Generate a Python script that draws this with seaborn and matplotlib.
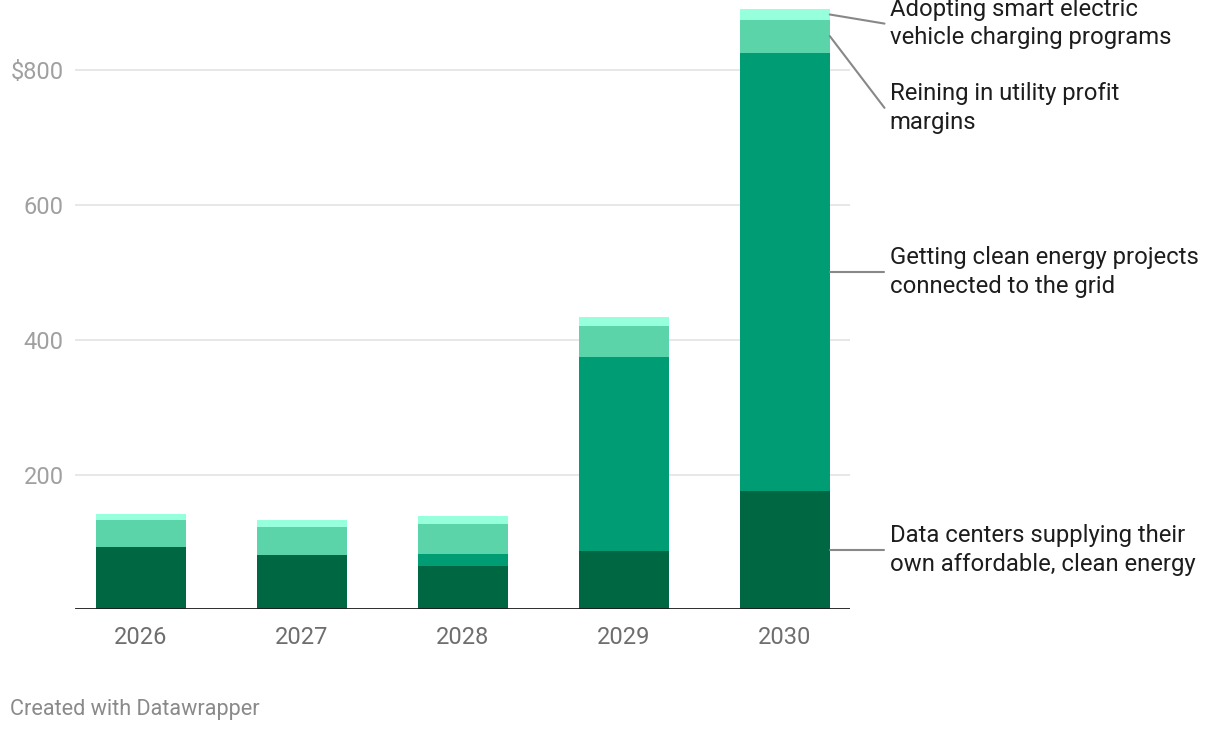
import numpy as np
import seaborn as sns
import matplotlib.pyplot as plt

years = ["2026", "2027", "2028", "2029", "2030"]
data_centers = [92, 81, 65, 87, 176]
clean_connect = [0, 0, 18, 288, 650]
profit_margins = [41, 42, 44, 46, 49]
ev_charging = [9, 10, 12, 13, 15]

series_names = [
    "Data centers supplying their\nown affordable, clean energy",
    "Getting clean energy projects\nconnected to the grid",
    "Reining in utility profit\nmargins",
    "Adopting smart electric\nvehicle charging programs",
]
colors = ["#006743", "#009c73", "#5cd4aa", "#96ffdc"]
y_ticks = [200, 400, 600, 800]
y_tick_labels = ["200", "400", "600", "$800"]

sns.set_style("white")
plt.rcParams["font.family"] = ["Roboto", "DejaVu Sans"]

fig = plt.figure(figsize=(12.2, 7.32), dpi=100)
ax = fig.add_axes([0.0615, 0.1674, 0.635, 0.8326])

layers = [data_centers, clean_connect, profit_margins, ev_charging]
bottom = np.zeros(len(years))
mids = []
for vals, c in zip(layers, colors):
    sns.barplot(x=years, y=vals, bottom=bottom, color=c, width=0.56,
                saturation=1, linewidth=0, edgecolor=c, ax=ax, zorder=3)
    mids.append(bottom[-1] + vals[-1] / 2)
    bottom = bottom + np.array(vals)

ax.set_xlim(-0.41, 4.404)
ax.set_ylim(0, 904)
for t in y_ticks:
    ax.axhline(t, color="#e3e3e3", lw=1.2, zorder=1)
ax.axhline(0, color="#1a1a1a", lw=2, zorder=4)
sns.despine(ax=ax, left=True, bottom=True, top=True, right=True)

ax.set_yticks(y_ticks)
ax.set_yticklabels(y_tick_labels, fontsize=17, color="#a0a0a0")
ax.tick_params(axis="y", length=0, pad=8)
ax.tick_params(axis="x", length=0, pad=12, labelsize=17, labelcolor="#6e6e6e")
ax.set_xlabel("")
ax.set_ylabel("")

# direct labels for the last bar
label_y = [mids[0], mids[1], 744, 869]
bar_edge = 4 + 0.28
for name, m, ly in zip(series_names, mids, label_y):
    ax.plot([bar_edge, 4.62], [m, ly], color="#888888", lw=1.5, clip_on=False, zorder=5)
    ax.text(4.652, ly, name, fontsize=17.2, color="#1d1d1d", va="center", ha="left",
            linespacing=1.32, clip_on=False)

fig.text(10 / 1220, 1 - 709 / 732, "Created with Datawrapper", fontsize=15.6,
         color="#8a8a8a", va="center", ha="left")

fig.savefig("out.png", dpi=100)
